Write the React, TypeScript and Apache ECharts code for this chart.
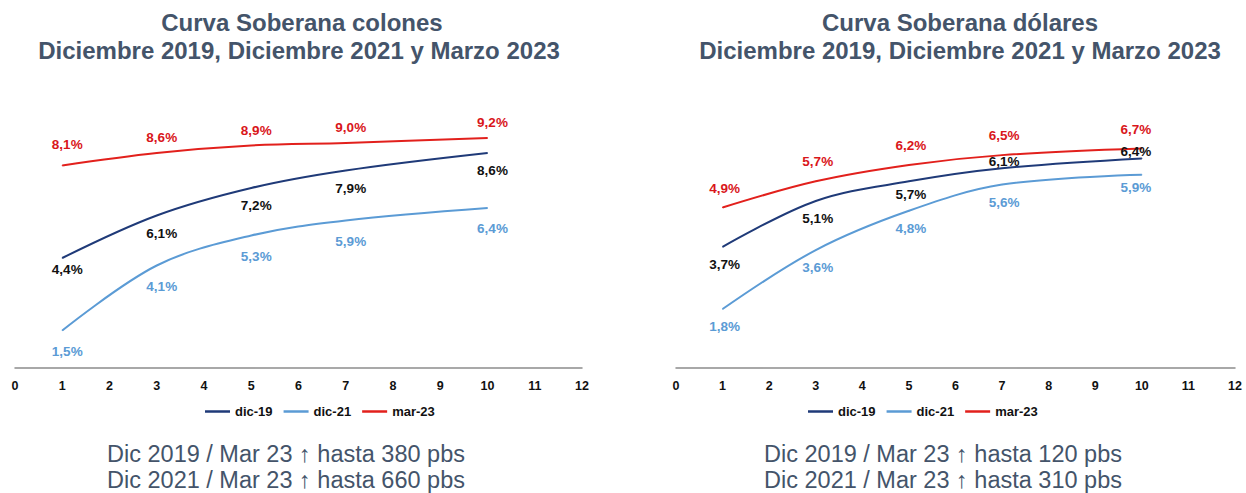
import React, { useEffect, useRef } from "react";
import * as echarts from "echarts";

// Plazos (años) donde se leen los valores
const plazos = [1, 3, 5, 7, 10];
const seriesNames = ["dic-19", "dic-21", "mar-23"];

// Curva colones (%)
const colonesDic19 = [4.4, 6.1, 7.2, 7.9, 8.6];
const colonesDic21 = [1.5, 4.1, 5.3, 5.9, 6.4];
const colonesMar23 = [8.1, 8.6, 8.9, 9.0, 9.2];

// Curva dólares (%)
const dolaresDic19 = [3.7, 5.1, 5.7, 6.1, 6.4];
const dolaresDic21 = [1.8, 3.6, 4.8, 5.6, 5.9];
const dolaresMar23 = [4.9, 5.7, 6.2, 6.5, 6.7];

const xTicks = [0, 12];

const titleLeft = ["Curva Soberana colones", "Diciembre 2019, Diciembre 2021 y Marzo 2023"];
const titleRight = ["Curva Soberana dólares", "Diciembre 2019, Diciembre 2021 y Marzo 2023"];
const noteLeft = ["Dic 2019 / Mar 23 \u2191 hasta 380 pbs", "Dic 2021 / Mar 23 \u2191 hasta 660 pbs"];
const noteRight = ["Dic 2019 / Mar 23 \u2191 hasta 120 pbs", "Dic 2021 / Mar 23 \u2191 hasta 310 pbs"];

const lineColors = ["#1F3A78", "#5B9BD5", "#E2201C"];
const labelColors = ["#111111", "#5B9BD5", "#D9161B"];
const textColor = "#44546A";
const FONT = "Liberation Sans, Arial, sans-serif";

export default function App() {
  const ref = useRef<HTMLDivElement>(null);
  useEffect(() => {
    if (!ref.current) return;
    const chart = echarts.init(ref.current, null, { renderer: "svg" });

    const mkSeries = (
      name: string,
      idx: number,
      vals: number[],
      axis: number,
      pos: string,
      dist: number,
      dx: number,
      overrides: Record<number, any> = {}
    ) => ({
      type: "line",
      name,
      xAxisIndex: axis,
      yAxisIndex: axis,
      smooth: 0.35,
      symbol: "circle",
      symbolSize: 1,
      showSymbol: true,
      color: lineColors[idx],
      lineStyle: { color: lineColors[idx], width: 2 },
      itemStyle: { color: lineColors[idx] },
      label: {
        show: true,
        position: pos,
        distance: dist,
        offset: [dx, 0],
        color: labelColors[idx],
        fontFamily: FONT,
        fontWeight: "bold",
        fontSize: 13.5,
        formatter: (p: any) => p.value[1].toFixed(1).replace(".", ",") + "%",
      },
      data: plazos.map((x, i) => {
        const item: any = { value: [x, vals[i]] };
        if (overrides[i]) item.label = overrides[i];
        return item;
      }),
    });

    const xAxisBase = (gi: number) => ({
      type: "value",
      gridIndex: gi,
      min: xTicks[0],
      max: xTicks[1],
      interval: 1,
      axisLine: { show: true, onZero: false, lineStyle: { color: "#8C8C8C", width: 1.5 } },
      axisTick: { show: false },
      splitLine: { show: false },
      axisLabel: {
        color: "#111",
        fontWeight: "bold",
        fontSize: 12.5,
        margin: 11,
        fontFamily: FONT,
      },
    });

    const txt = (text: string, x: number, y: number, bold: boolean, size: number) => ({
      type: "text",
      x,
      y,
      style: {
        text,
        fill: textColor,
        font: `${bold ? "bold " : ""}${size}px "Liberation Sans", "DejaVu Sans", Arial, sans-serif`,
        align: "center",
        verticalAlign: "middle",
        textAlign: "center",
        textVerticalAlign: "middle",
      },
    });

    const legendBase = (left: number) => ({
      left,
      top: 400,
      data: seriesNames,
      icon: "rect",
      itemWidth: 25,
      itemHeight: 2.5,
      itemGap: 11,
      textStyle: {
        color: "#111",
        fontWeight: "bold",
        fontSize: 13,
        fontFamily: FONT,
      },
    });

    chart.setOption({
      animation: false,
      backgroundColor: "#ffffff",
      grid: [
        { left: 15, right: 664, top: 118, bottom: 125 },
        { left: 676, right: 11, top: 106, bottom: 125 },
      ],
      xAxis: [xAxisBase(0), xAxisBase(1)],
      yAxis: [
        { type: "value", gridIndex: 0, min: 0, max: 10, show: false },
        { type: "value", gridIndex: 1, min: 0, max: 8, show: false },
      ],
      legend: [legendBase(200), legendBase(803)],
      series: [
        mkSeries("dic-19", 0, colonesDic19, 0, "bottom", 10, 5, { 0: { distance: 4 } }),
        mkSeries("dic-21", 1, colonesDic21, 0, "bottom", 13, 5),
        mkSeries("mar-23", 2, colonesMar23, 0, "top", 8, 5, { 0: { distance: 14 } }),
        mkSeries("dic-19", 0, dolaresDic19, 1, "bottom", 10, 2, {
          2: { distance: 6 },
          3: { position: "top", distance: -1 },
          4: { position: "top", distance: -1, offset: [-6, 0] },
        }),
        mkSeries("dic-21", 1, dolaresDic21, 1, "bottom", 10, 2, { 4: { distance: 5, offset: [-6, 0] } }),
        mkSeries("mar-23", 2, dolaresMar23, 1, "top", 12, 2, { 4: { offset: [-6, 0] } }),
      ],
      graphic: [
        txt(titleLeft[0], 302, 22, true, 24),
        txt(titleLeft[1], 299, 50, true, 24),
        txt(titleRight[0], 960, 22, true, 24),
        txt(titleRight[1], 960, 50, true, 24),
        txt(noteLeft[0], 286, 454, false, 23.5),
        txt(noteLeft[1], 286, 480, false, 23.5),
        txt(noteRight[0], 943, 454, false, 23.5),
        txt(noteRight[1], 943, 480, false, 23.5),
      ],
    });
    return () => chart.dispose();
  }, []);
  return (
    <div
      ref={ref}
      style={{ position: "fixed", left: 0, top: 0, width: 1246, height: 493, background: "#fff" }}
    />
  );
}
